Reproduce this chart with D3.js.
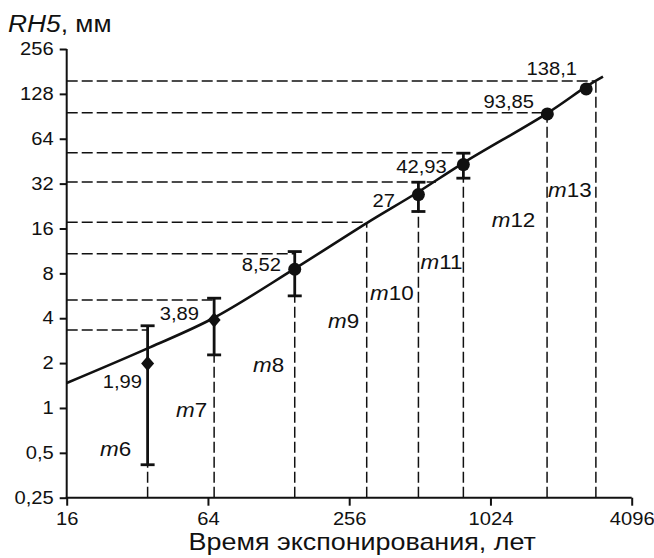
<!DOCTYPE html>
<html><head><meta charset="utf-8">
<script src="https://cdn.jsdelivr.net/npm/d3@7"></script>
<style>body{margin:0;background:#fff}svg text{font-family:"Liberation Sans",Arial,sans-serif;fill:#111}</style>
</head><body><svg id="c" width="654" height="558"></svg>
<script>
// ---- data ----
const xTicks = [16, 64, 256, 1024, 4096];
const xTickLabels = ["16", "64", "256", "1024", "4096"];
const yTicks = [0.25, 0.5, 1, 2, 4, 8, 16, 32, 64, 128, 256];
const yTickLabels = ["0,25", "0,5", "1", "2", "4", "8", "16", "32", "64", "128", "256"];

const pointYears = [35.4, 68, 150, 505, 785, 1790, 2620];
const pointValues = [1.99, 3.89, 8.52, 27, 42.93, 93.85, 138.1];
const pointLabels = ["1,99", "3,89", "8,52", "27", "42,93", "93,85", "138,1"];
const pointShapes = ["diamond", "diamond", "circle", "circle", "circle", "circle", "circle"];
const errLow = [0.416, 2.27, 5.65, 20.8, 34.8, null, null];
const errHigh = [3.56, 5.45, 11.2, 32.7, 51.2, null, null];
const labelYears = [33.5, 58.6, 131, 401, 667, 1571, 2395];
const labelValues = [1.36, 3.89, 8.33, 22.4, 37.5, 102.4, 171.3];

const curveYears = [16, 36, 68, 150, 304, 500, 780, 1800, 2620, 3090];
const curveValues = [1.47, 2.54, 4.03, 8.6, 17.4, 27.9, 43.8, 95.5, 143, 167];

const guideNames = ["6", "7", "8", "9", "10", "11", "12", "13"];
const guideYears = [35.4, 68, 150, 304, 505, 785, 1785, 2882];
const guideTopValues = [0.416, 2.27, 5.65, 17.6, 20.8, 34.8, 93.85, 156.2];
const nameYears = [22.2, 46.8, 99.6, 208, 314, 516, 1037, 1802];
const nameValues = [0.476, 0.874, 1.751, 3.42, 5.30, 8.52, 16.45, 25.9];

const hGuideValues = [3.33, 5.30, 10.84, 17.6, 32.8, 51.6, 95.7, 156.2];
const hGuideEndYears = [35.4, 68, 150, 304, 600, 829, 1779, 2882];

// ---- layout ----
const svg = d3.select("#c");
const X0 = 66.7, X1 = 631.7, Y0 = 497.7, Y1 = 49;
const x = d3.scaleLog().base(2).domain([16, 4096]).range([X0, X1]);
const y = d3.scaleLog().base(2).domain([0.25, 256]).range([Y0, Y1]);
const INK = "#111";
const STRETCH = 1.12;
function stretch(sel, k) {
  sel.each(function () {
    const w = this.getComputedTextLength();
    this.setAttribute("textLength", w * k);
    this.setAttribute("lengthAdjust", "spacingAndGlyphs");
  });
}

// dashed guides
const g = svg.append("g").attr("stroke", INK).attr("stroke-width", 1.5).attr("stroke-dasharray", "11,4").attr("fill", "none");
hGuideValues.forEach((v, i) => {
  g.append("line").attr("x1", X0).attr("x2", x(hGuideEndYears[i])).attr("y1", y(v)).attr("y2", y(v));
});
guideYears.forEach((t, i) => {
  g.append("line").attr("x1", x(t)).attr("x2", x(t)).attr("y1", Y0).attr("y2", y(guideTopValues[i]));
});

// axes
const xAxis = svg.append("g").attr("transform", `translate(0,${Y0})`)
  .call(d3.axisBottom(x).tickValues(xTicks).tickFormat((d, i) => xTickLabels[i]).tickSize(8).tickPadding(7).tickSizeOuter(0));
const yAxis = svg.append("g").attr("transform", `translate(${X0},0)`)
  .call(d3.axisLeft(y).tickValues(yTicks).tickFormat((d, i) => yTickLabels[i]).tickSize(7).tickPadding(6).tickSizeOuter(0));
[xAxis, yAxis].forEach(a => {
  a.select(".domain").attr("stroke", INK).attr("stroke-width", 2);
  a.selectAll(".tick line").attr("stroke", INK).attr("stroke-width", 2);
  a.selectAll(".tick text").attr("font-size", 18).attr("font-family", null).attr("fill", INK);
});
xAxis.select(".domain").attr("d", `M${X0 - 1},0H${X1}`);
yAxis.select(".domain").attr("d", `M0,${Y1}V${Y0 + 1}`);
stretch(xAxis.selectAll(".tick text"), STRETCH);
stretch(yAxis.selectAll(".tick text"), STRETCH);

// curve
const line = d3.line().x(d => x(d[0])).y(d => y(d[1])).curve(d3.curveCatmullRom.alpha(0.5));
svg.append("path").datum(curveYears.map((t, i) => [t, curveValues[i]]))
  .attr("d", line).attr("fill", "none").attr("stroke", INK).attr("stroke-width", 2.6);

// error bars
const eb = svg.append("g").attr("stroke", INK).attr("stroke-width", 2.8).attr("fill", "none");
pointYears.forEach((t, i) => {
  if (errLow[i] == null) return;
  const cx = x(t);
  eb.append("line").attr("x1", cx).attr("x2", cx).attr("y1", y(errLow[i])).attr("y2", y(errHigh[i]));
  [errLow[i], errHigh[i]].forEach(v => {
    eb.append("line").attr("x1", cx - 7).attr("x2", cx + 7).attr("y1", y(v)).attr("y2", y(v));
  });
});

// markers
pointYears.forEach((t, i) => {
  const cx = x(t), cy = y(pointValues[i]);
  if (pointShapes[i] === "diamond") {
    svg.append("path").attr("d", `M${cx},${cy - 7.5}L${cx + 6.5},${cy}L${cx},${cy + 7.5}L${cx - 6.5},${cy}Z`).attr("fill", INK);
  } else {
    svg.append("circle").attr("cx", cx).attr("cy", cy).attr("r", 6.5).attr("fill", INK);
  }
});

// point labels
const pl = svg.append("g").selectAll("text").data(pointLabels).join("text")
  .attr("x", (d, i) => x(labelYears[i])).attr("y", (d, i) => y(labelValues[i]))
  .attr("text-anchor", "end").attr("font-size", 18).text(d => d);
stretch(pl, STRETCH);

// m labels
const ml = svg.append("g").selectAll("text").data(guideNames).join("text")
  .attr("x", (d, i) => x(nameYears[i])).attr("y", (d, i) => y(nameValues[i]))
  .attr("font-size", 20);
ml.append("tspan").attr("font-style", "italic").text("m");
ml.append("tspan").text(d => d);
stretch(ml, STRETCH);

// axis titles
const yt = svg.append("text").attr("x", 8).attr("y", 31.5).attr("font-size", 23.5);
yt.append("tspan").attr("font-style", "italic").text("RH5");
yt.append("tspan").text(", мм");
stretch(yt, STRETCH);
const xt = svg.append("text").attr("x", (X0 + X1) / 2 + 13).attr("y", 550).attr("text-anchor", "middle")
  .attr("font-size", 24).text("Время экспонирования, лет");
stretch(xt, STRETCH);
</script></body></html>
